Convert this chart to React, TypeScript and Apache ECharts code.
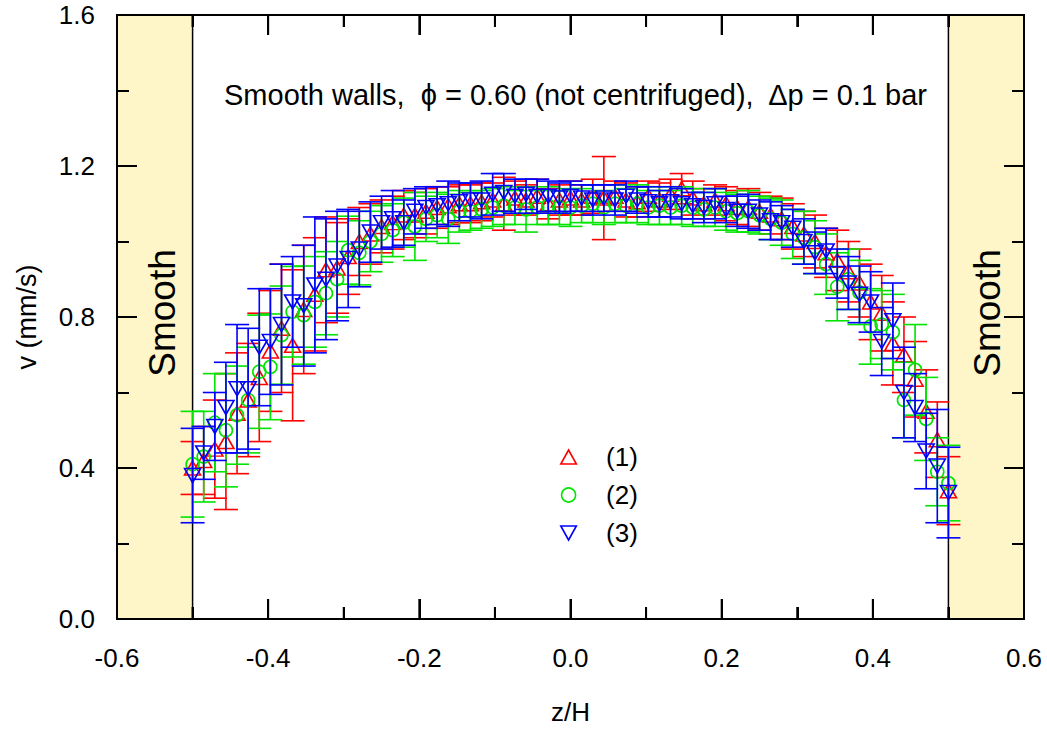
import React, { useEffect, useRef } from "react";
import * as echarts from "echarts";

// z/H positions: 69 equally spaced points from -0.5 to 0.5 (step 1/68)
const zIndex: number[] = [
  0, 1, 2, 3, 4, 5, 6, 7, 8, 9, 10, 11, 12, 13, 14, 15, 16, 17, 18, 19, 20, 21, 22, 23,
  24, 25, 26, 27, 28, 29, 30, 31, 32, 33, 34, 35, 36, 37, 38, 39, 40, 41, 42, 43, 44, 45,
  46, 47, 48, 49, 50, 51, 52, 53, 54, 55, 56, 57, 58, 59, 60, 61, 62, 63, 64, 65, 66, 67, 68,
];
const zH: number[] = zIndex.map((i) => -0.5 + i / 68);

const v1: number[] = [
  0.40, 0.42, 0.45, 0.47, 0.545, 0.58, 0.64, 0.71, 0.77, 0.725, 0.82, 0.86, 0.925, 0.93, 0.96, 1.0,
  1.02, 1.04, 1.05, 1.07, 1.07, 1.08, 1.09, 1.095, 1.10, 1.10, 1.105, 1.11, 1.10, 1.115, 1.11, 1.12,
  1.10, 1.11, 1.115, 1.11, 1.12, 1.115, 1.12, 1.11, 1.105, 1.12, 1.11, 1.125, 1.14, 1.115, 1.10, 1.11,
  1.10, 1.09, 1.09, 1.08, 1.07, 1.06, 1.04, 1.02, 1.0, 0.97, 0.95, 0.92, 0.89, 0.84, 0.81, 0.73,
  0.70, 0.635, 0.55, 0.475, 0.34,
];
const e1: number[] = [
  0.07, 0.09, 0.13, 0.18, 0.16, 0.15, 0.17, 0.16, 0.17, 0.2, 0.17, 0.15, 0.14, 0.12, 0.1, 0.09,
  0.08, 0.07, 0.07, 0.065, 0.06, 0.06, 0.055, 0.05, 0.05, 0.05, 0.05, 0.045, 0.07, 0.045, 0.04, 0.045,
  0.04, 0.04, 0.045, 0.04, 0.045, 0.11, 0.04, 0.045, 0.04, 0.04, 0.045, 0.04, 0.04, 0.045, 0.04, 0.04,
  0.045, 0.045, 0.05, 0.05, 0.05, 0.055, 0.06, 0.06, 0.07, 0.065, 0.08, 0.08, 0.09, 0.1, 0.1, 0.11,
  0.1, 0.1, 0.11, 0.1, 0.09,
];

const v2: number[] = [
  0.41, 0.43, 0.52, 0.50, 0.54, 0.58, 0.655, 0.668, 0.752, 0.814, 0.805, 0.84, 0.863, 0.90, 0.977, 0.97,
  1.0, 1.02, 1.03, 1.05, 1.04, 1.06, 1.07, 1.06, 1.08, 1.08, 1.085, 1.09, 1.095, 1.09, 1.085, 1.09,
  1.095, 1.09, 1.09, 1.095, 1.10, 1.09, 1.10, 1.095, 1.10, 1.09, 1.095, 1.09, 1.095, 1.09, 1.085, 1.09,
  1.08, 1.075, 1.08, 1.07, 1.06, 1.05, 1.02, 1.01, 0.985, 0.94, 0.88, 0.9, 0.865, 0.775, 0.78, 0.76,
  0.58, 0.66, 0.53, 0.39, 0.36,
];
const e2: number[] = [
  0.14, 0.12, 0.13, 0.15, 0.13, 0.14, 0.15, 0.14, 0.13, 0.12, 0.13, 0.12, 0.11, 0.1, 0.09, 0.085,
  0.08, 0.075, 0.07, 0.065, 0.09, 0.06, 0.06, 0.065, 0.055, 0.05, 0.05, 0.05, 0.05, 0.045, 0.06, 0.045,
  0.05, 0.045, 0.05, 0.045, 0.05, 0.045, 0.05, 0.045, 0.05, 0.045, 0.05, 0.045, 0.05, 0.05, 0.045, 0.05,
  0.05, 0.05, 0.055, 0.05, 0.055, 0.06, 0.065, 0.07, 0.07, 0.08, 0.09, 0.08, 0.085, 0.1, 0.09, 0.1,
  0.1, 0.12, 0.11, 0.09, 0.1,
];

const v3: number[] = [
  0.38, 0.44, 0.51, 0.56, 0.61, 0.61, 0.72, 0.735, 0.78, 0.84, 0.83, 0.885, 0.90, 0.935, 0.955, 0.98,
  1.025, 1.05, 1.06, 1.05, 1.08, 1.09, 1.095, 1.10, 1.105, 1.11, 1.11, 1.125, 1.13, 1.12, 1.125, 1.12,
  1.12, 1.115, 1.12, 1.115, 1.11, 1.115, 1.11, 1.12, 1.11, 1.105, 1.10, 1.105, 1.10, 1.095, 1.09, 1.10,
  1.085, 1.08, 1.08, 1.07, 1.055, 1.05, 1.035, 1.0, 0.97, 0.975, 0.915, 0.89, 0.86, 0.84, 0.735, 0.79,
  0.60, 0.56, 0.445, 0.405, 0.335,
];
const e3: number[] = [
  0.125, 0.07, 0.09, 0.12, 0.17, 0.16, 0.155, 0.14, 0.16, 0.12, 0.16, 0.18, 0.16, 0.145, 0.13, 0.1,
  0.08, 0.07, 0.075, 0.06, 0.06, 0.055, 0.05, 0.06, 0.05, 0.045, 0.05, 0.055, 0.05, 0.045, 0.04, 0.045,
  0.04, 0.04, 0.04, 0.035, 0.04, 0.035, 0.04, 0.04, 0.035, 0.04, 0.035, 0.04, 0.04, 0.035, 0.04, 0.04,
  0.035, 0.04, 0.045, 0.04, 0.05, 0.045, 0.05, 0.06, 0.055, 0.06, 0.065, 0.07, 0.075, 0.08, 0.09, 0.1,
  0.12, 0.09, 0.1, 0.15, 0.12,
];

const seriesNames: string[] = ["(1)", "(2)", "(3)"];
const seriesColors: string[] = ["#FF0000", "#00E400", "#0000FF"];
const xTicks: number[] = [-0.6, -0.4, -0.2, 0.0, 0.2, 0.4, 0.6];
// all x tick positions (major and minor alternate, starting with a major)
const xTickAll: number[] = [-0.6, -0.5, -0.4, -0.3, -0.2, -0.1, 0.0, 0.1, 0.2, 0.3, 0.4, 0.5, 0.6];
const yTicks: number[] = [0.0, 0.4, 0.8, 1.2, 1.6];
const wallLabel = "Smooth";
const titleText = "Smooth walls,  \u03D5 = 0.60 (not centrifuged),  \u0394p = 0.1 bar";

const FONT = "Liberation Sans";

function fmt(v: number): string {
  if (Math.abs(v) < 1e-9) return "0.0";
  return v.toFixed(1);
}

function axisParts(): any {
  return {
    z: 50,
    axisLine: { show: true, onZero: false, lineStyle: { color: "#000", width: 2 } },
    axisTick: { show: true, inside: true, length: 20, lineStyle: { color: "#000", width: 2 } },
    minorTick: { show: true, splitNumber: 2, length: 12, lineStyle: { color: "#000", width: 2 } },
    splitLine: { show: false },
  };
}

export default function App() {
  const ref = useRef<HTMLDivElement>(null);

  useEffect(() => {
    if (!ref.current) return;
    const chart = echarts.init(ref.current, undefined, { renderer: "svg" });

    const vals = [v1, v2, v3];
    const errs = [e1, e2, e3];
    const symbols = ["triangle", "circle", "triangle"];
    const rotates = [0, 0, 180];
    const sizes: any[] = [[16, 14], 13, [16, 14]];

    const series: any[] = [];
    // shaded wall regions
    series.push({
      type: "line",
      name: "walls",
      data: [],
      silent: true,
      z: 0,
      markArea: {
        silent: true,
        itemStyle: { color: "#FEF5C8", borderColor: "#000", borderWidth: 1.5 },
        data: [
          [{ xAxis: -0.6 }, { xAxis: -0.5 }],
          [{ xAxis: 0.5 }, { xAxis: 0.6 }],
        ],
      },
    });

    // inward x ticks on bottom and top frame edges, drawn as thin filled rects
    series.push({
      type: "custom",
      name: "xticks",
      silent: true,
      z: 60,
      data: xTickAll.map((x) => [x, yTicks[0]]),
      encode: { x: 0, y: 1 },
      renderItem: (params: any, api: any) => {
        const x = api.value(0);
        const len = params.dataIndex % 2 === 0 ? 20 : 12;
        const b = api.coord([x, yTicks[0]]);
        const t = api.coord([x, yTicks[yTicks.length - 1]]);
        const st = { fill: "#000" };
        return {
          type: "group",
          children: [
            { type: "rect", shape: { x: b[0] - 1, y: b[1] - len, width: 2, height: len }, style: st },
            { type: "rect", shape: { x: t[0] - 1, y: t[1], width: 2, height: len }, style: st },
          ],
        };
      },
    });

    for (let s = 0; s < 3; s++) {
      const color = seriesColors[s];
      const errData = zH.map((x, i) => [x, vals[s][i] - errs[s][i], vals[s][i] + errs[s][i]]);
      series.push({
        type: "custom",
        name: "err" + s,
        z: 2 + s * 2,
        data: errData,
        encode: { x: 0, y: [1, 2] },
        renderItem: (params: any, api: any) => {
          const x = api.value(0);
          const lo = api.value(1);
          const hi = api.value(2);
          const pHi = api.coord([x, hi]);
          const pLo = api.coord([x, lo]);
          const w = 12;
          const st = { stroke: color, lineWidth: 1.6 };
          return {
            type: "group",
            children: [
              { type: "line", shape: { x1: pHi[0], y1: pHi[1], x2: pLo[0], y2: pLo[1] }, style: st },
              { type: "line", shape: { x1: pHi[0] - w, y1: pHi[1], x2: pHi[0] + w, y2: pHi[1] }, style: st },
              { type: "line", shape: { x1: pLo[0] - w, y1: pLo[1], x2: pLo[0] + w, y2: pLo[1] }, style: st },
            ],
          };
        },
      });
      series.push({
        type: "scatter",
        name: seriesNames[s],
        z: 3 + s * 2,
        symbol: symbols[s],
        symbolRotate: rotates[s],
        symbolSize: sizes[s],
        data: zH.map((x, i) => [x, vals[s][i]]),
        itemStyle: { color: "rgba(0,0,0,0)", borderColor: color, borderWidth: 1.6, opacity: 1 },
      });
    }

    chart.setOption({
      animation: false,
      backgroundColor: "#fff",
      textStyle: { fontFamily: FONT },
      title: {
        text: titleText,
        left: 224,
        top: 80,
        padding: 0,
        textStyle: { fontFamily: FONT, fontSize: 29, fontWeight: "normal", color: "#000" },
      },
      grid: { left: 117, top: 15, right: 23, bottom: 112, containLabel: false },
      legend: {
        orient: "vertical",
        left: 555,
        top: 439,
        itemWidth: 17,
        itemHeight: 14,
        itemGap: 12,
        selectedMode: false,
        textStyle: { fontFamily: FONT, fontSize: 26, color: "#000", padding: [0, 0, 0, 24] },
        data: [
          { name: "(1)", icon: "path://M5,0 L10,9 L0,9 Z", itemStyle: { color: "rgba(0,0,0,0)", borderColor: seriesColors[0], borderWidth: 1.6 } },
          { name: "(2)", icon: "circle", itemStyle: { color: "rgba(0,0,0,0)", borderColor: seriesColors[1], borderWidth: 1.6 } },
          { name: "(3)", icon: "path://M0,0 L10,0 L5,9 Z", itemStyle: { color: "rgba(0,0,0,0)", borderColor: seriesColors[2], borderWidth: 1.6 } },
        ],
      },
      xAxis: [
        {
          type: "value",
          min: xTicks[0],
          max: xTicks[xTicks.length - 1],
          interval: 0.2,
          position: "bottom",
          name: "z/H",
          nameLocation: "middle",
          nameGap: 80,
          nameTextStyle: { fontFamily: FONT, fontSize: 26, color: "#000" },
          axisLabel: { show: true, margin: 26, fontFamily: FONT, fontSize: 26, color: "#000", formatter: fmt },
          ...axisParts(),
        },
        {
          type: "value",
          min: xTicks[0],
          max: xTicks[xTicks.length - 1],
          interval: 0.2,
          position: "top",
          axisLabel: { show: false },
          ...axisParts(),
        },
      ],
      yAxis: [
        {
          type: "value",
          min: yTicks[0],
          max: yTicks[yTicks.length - 1],
          interval: 0.4,
          position: "left",
          name: "v (mm/s)",
          nameLocation: "middle",
          nameGap: 77,
          nameTextStyle: { fontFamily: FONT, fontSize: 27, color: "#000" },
          axisLabel: { show: true, margin: 22, fontFamily: FONT, fontSize: 26, color: "#000", formatter: fmt },
          ...axisParts(),
        },
        {
          type: "value",
          min: yTicks[0],
          max: yTicks[yTicks.length - 1],
          interval: 0.4,
          position: "right",
          axisLabel: { show: false },
          ...axisParts(),
        },
      ],
      graphic: [
        {
          type: "text",
          x: 162,
          y: 313,
          rotation: Math.PI / 2,
          z: 100,
          style: { text: wallLabel, fontFamily: FONT, fontSize: 37, fill: "#000", align: "center", verticalAlign: "middle" },
        },
        {
          type: "text",
          x: 987,
          y: 313,
          rotation: Math.PI / 2,
          z: 100,
          style: { text: wallLabel, fontFamily: FONT, fontSize: 37, fill: "#000", align: "center", verticalAlign: "middle" },
        },
      ],
      series,
    });

    return () => chart.dispose();
  }, []);

  return (
    <div
      ref={ref}
      style={{ position: "fixed", left: 0, top: 0, width: 1047, height: 731, background: "#fff" }}
    />
  );
}
